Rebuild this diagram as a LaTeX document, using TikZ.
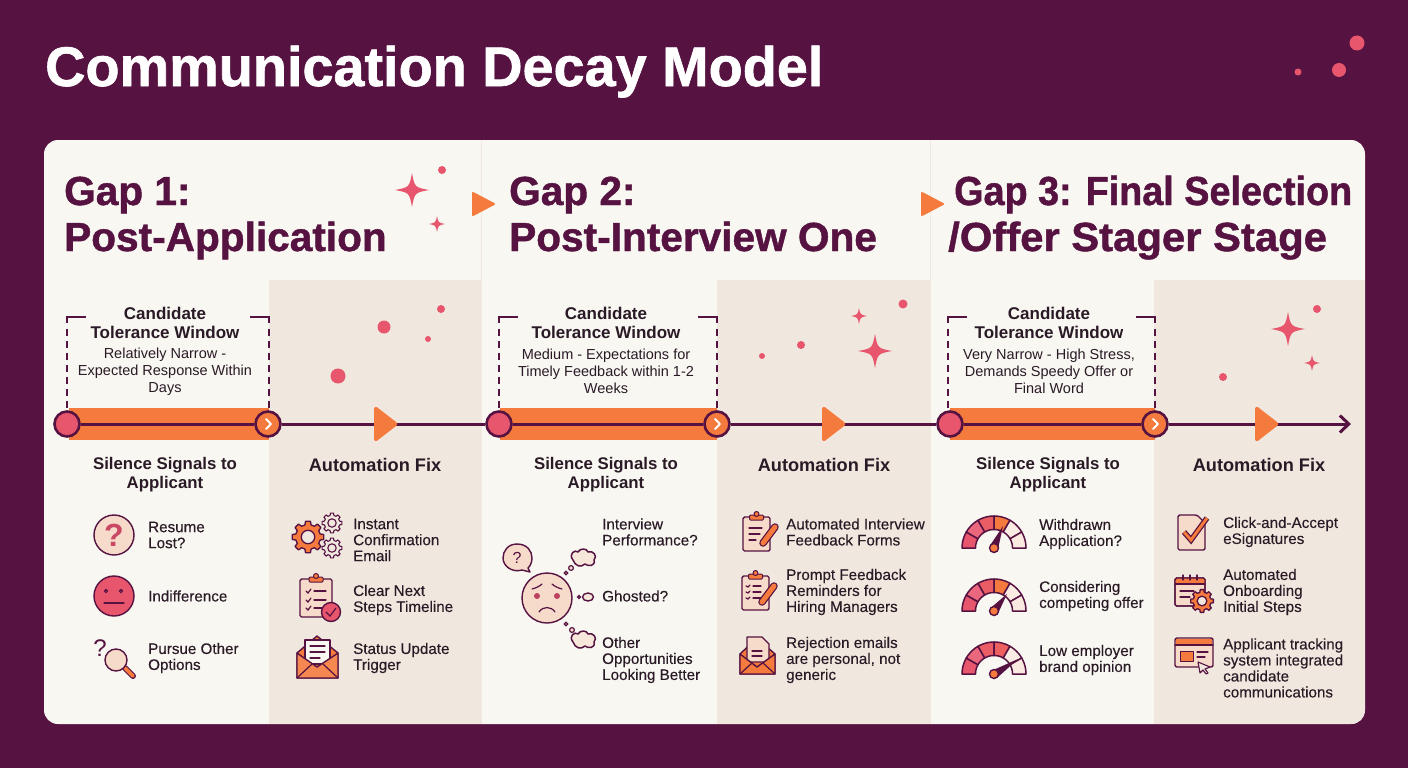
\documentclass[tikz,border=0pt]{standalone}
\usepackage{fontspec}
\setmainfont{Liberation Sans}
\newfontfamily\medf[FakeBold=0.25]{Liberation Sans}
\newfontfamily\hvyf[UprightFont={* Bold},FakeBold=1.1]{Liberation Sans}
\usetikzlibrary{arrows.meta}
\definecolor{plum}{HTML}{561241}
\definecolor{panel}{HTML}{F8F7F2}
\definecolor{tan}{HTML}{F0E8DF}
\definecolor{org}{HTML}{F47A3E}
\definecolor{pnk}{HTML}{E8566E}
\definecolor{peach}{HTML}{F6DACA}
\definecolor{pale}{HTML}{FAEBE3}
\definecolor{ink}{HTML}{2A1A26}
\tikzset{
 x=1pt,y=-1pt,
 ic/.style={draw=plum,line width=1.4pt,line join=round,line cap=round},
 ln/.style={draw=plum,line width=1.2pt,line cap=round},
 itemtext/.style={anchor=west,align=left,inner sep=0pt,text=ink,font=\medf\fontsize{15.2}{16}\selectfont},
 subhead/.style={anchor=center,align=center,inner sep=0pt,text=ink,font=\bfseries\fontsize{16.8}{19}\selectfont},
 autohead/.style={anchor=center,align=center,inner sep=0pt,text=ink,font=\bfseries\fontsize{18.2}{19}\selectfont},
 tolhead/.style={anchor=center,align=center,inner sep=0pt,text=ink,font=\bfseries\fontsize{17}{19}\selectfont},
 tolsub/.style={anchor=center,align=center,inner sep=0pt,text=ink,font=\fontsize{14.5}{17}\selectfont},
 gaphead/.style={anchor=base west,inner sep=0pt,text=plum,font=\hvyf\fontsize{40.6}{46}\selectfont},
 tl/.style={draw=plum,line width=3pt},
 startdot/.style={circle,draw=plum,line width=2.6pt,fill=pnk,minimum size=25pt,inner sep=0pt},
 enddot/.style={circle,draw=plum,line width=2.6pt,fill=org,minimum size=25pt,inner sep=0pt,text=white},
 bar/.style={fill=org,draw=none},
 bracket/.style={draw=plum,line width=1.5pt},
 brdash/.style={draw=plum,line width=1.5pt,dash pattern=on 7pt off 5pt},
 dotp/.style={fill=pnk,draw=none},
 tri/.style={fill=org,draw=org,line width=2pt,line join=round},
}
\newcommand{\sparkle}[3]{\fill[pnk] (#1,#2-#3) .. controls (#1+.16*#3,#2-.16*#3) .. (#1+#3,#2) .. controls (#1+.16*#3,#2+.16*#3) .. (#1,#2+#3) .. controls (#1-.16*#3,#2+.16*#3) .. (#1-#3,#2) .. controls (#1-.16*#3,#2-.16*#3) .. cycle;}
\newcommand{\pdot}[3]{\fill[dotp] (#1,#2) circle[radius=#3];}
\newcommand{\geari}[6]{% x y R lw fill hole
 \begin{scope}[shift={(#1,#2)}]
 \draw[draw=plum,line width=#4pt,fill=#5,line join=round] (-14:{#3*.78}) \foreach \a in {0,45,...,315}{ -- (\a-14:{#3*.78}) -- (\a-9:#3) -- (\a+9:#3) -- (\a+14:{#3*.78}) } -- cycle;
 \draw[draw=plum,line width=#4pt,fill=#6] (0,0) circle[radius={#3*.42}];
 \end{scope}}
\newcommand{\gauge}[7]{% x y tipx tipy + seg colours (4th,5th,6th)
 \begin{scope}[shift={(#1,#2)}]
 \foreach \s/\c in {0/pnk,1/pnk!90!white,2/pnk!80!org,3/#5,4/#6,5/#7}{
  \filldraw[draw=plum,line width=1.5pt,line join=round,fill=\c] plot[domain={-180+30*\s}:{-150+30*\s},samples=7] ({32*cos(\x)},{32*sin(\x)}) -- plot[domain={-150+30*\s}:{-180+30*\s},samples=7] ({18.5*cos(\x)},{18.5*sin(\x)}) -- cycle;}
 \fill[plum] (#3,#4) -- (-4,-2.5) -- (3.5,3.5) -- cycle;
 \filldraw[draw=plum,line width=1.4pt,fill=org] (0,0) circle[radius=4.5];
 \end{scope}}
\newcommand{\clipb}[5]{% x1 y1 x2 y2 fill
 \filldraw[ic,fill=#5,rounded corners=1.5pt] (#1,#2) rectangle (#3,#4);
 \filldraw[ic,fill=org,rounded corners=1pt,line width=1pt] ({(#1+#3)/2-7},#2-2) rectangle ({(#1+#3)/2+7},#2+3);
 \filldraw[ic,fill=org,line width=1pt] ({(#1+#3)/2},#2-3) circle[radius=2.5];}
\newcommand{\pencil}[4]{% tip x,y  end x,y
 \draw[draw=plum,line width=7.5pt,line cap=round] (#1,#2) -- (#3,#4);
 \draw[draw=org,line width=5pt,line cap=round] (#1,#2) -- (#3,#4);}
\newcommand{\cloudi}[3]{% x y s
 \begin{scope}[shift={(#1,#2)},scale=#3]
 \filldraw[ic,line width=1.5pt,fill=peach!60!panel] (-10,2) .. controls (-15,-4) and (-8,-9) .. (-5,-6) .. controls (-3,-10) and (4,-10) .. (5,-6) .. controls (10,-8) and (15,-2) .. (11,2) .. controls (13,8) and (5,9) .. (2,6) .. controls (-2,10) and (-8,8) .. (-10,2) -- cycle;
 \end{scope}}
\begin{document}
\begin{tikzpicture}
\useasboundingbox (0,0) rectangle (1408,768);
\fill[plum] (0,0) rectangle (1408,768);
\node[anchor=base west,inner sep=0pt,text=white,font=\hvyf\fontsize{55.8}{60}\selectfont] (title) at (45,86) {Communication Decay Model};
\pdot{1357}{43}{7.5}\pdot{1339}{70}{7}\pdot{1298}{72}{3.5}
% panel
\fill[panel,rounded corners=14pt] (44,140) rectangle (1365,724);
\fill[tan] (269,280) rectangle (481,724);
\fill[tan] (717,280) rectangle (930,724);
\begin{scope}
\clip[rounded corners=14pt] (44,140) rectangle (1365,724);
\fill[tan] (1154,280) rectangle (1365,724);
\end{scope}
\draw[draw=tan,line width=1pt] (481,140) -- (481,724);
\draw[draw=tan,line width=1pt] (930,140) -- (930,724);
% headings
\node[gaphead] (g1a) at (64,205) {Gap 1:};
\node[gaphead] (g1b) at (64,251) {Post-Application};
\node[gaphead] (g2a) at (509,205) {Gap 2:};
\node[gaphead] (g2b) at (509,251) {Post-Interview One};
\node[gaphead] (g3a) at (954,205) {\scalebox{.93}[1]{Gap 3: Final Selection}};
\node[gaphead] (g3b) at (948,251) {\scalebox{1.03}[1]{/Offer Stager Stage}};
\filldraw[tri] (473,193) -- (494,204) -- (473,215) -- cycle;
\filldraw[tri] (922,193) -- (943,204) -- (922,215) -- cycle;
% sparkles
\sparkle{412}{190}{17}\sparkle{437}{224}{8}\pdot{442}{170}{4}
\pdot{441}{309}{4}\pdot{384}{327}{6.5}\pdot{428}{339}{3}\pdot{338}{376}{7.5}
\sparkle{859}{316}{8}\sparkle{875}{351}{17}\pdot{903}{304}{4.5}\pdot{801}{345}{4}\pdot{762}{356}{3}
\sparkle{1288}{329}{17}\sparkle{1312}{363}{8}\pdot{1317}{309}{4}\pdot{1223}{377}{4}
% brackets
\foreach \l/\r in {67/269,499/717,948/1155}{
 \draw[bracket] (\l+19,317) -- (\l,317) -- (\l,323);
 \draw[bracket] (\r-19,317) -- (\r,317) -- (\r,323);
 \draw[brdash] (\l,329) -- (\l,408);
 \draw[brdash] (\r,329) -- (\r,408);
}
% tolerance text
\node[tolhead] (t1) at (165,323) {Candidate\\Tolerance Window};
\node[tolsub] (s1) at (165,372) {Relatively Narrow -\\Expected Response Within\\Days};
\node[tolhead] (t2) at (606,323) {Candidate\\Tolerance Window};
\node[tolsub] (s2) at (606,371) {Medium - Expectations for\\Timely Feedback within 1-2\\Weeks};
\node[tolhead] (t3) at (1049,323) {Candidate\\Tolerance Window};
\node[tolsub] (s3) at (1049,371) {Very Narrow - High Stress,\\Demands Speedy Offer or\\Final Word};
% timeline
\fill[bar] (69,408) rectangle (269,440);
\fill[bar] (500,408) rectangle (717,440);
\fill[bar] (950,408) rectangle (1155,440);
\node[startdot] (a1) at (67,424) {};
\node[enddot] (b1) at (268,424) {};
\node[startdot] (a2) at (499,424) {};
\node[enddot] (b2) at (717,424) {};
\node[startdot] (a3) at (950,424) {};
\node[enddot] (b3) at (1155,424) {};
\coordinate (tlend) at (1351,424);
\draw[tl] (a1) -- (b1);
\draw[tl] (b1) -- (a2);
\draw[tl] (a2) -- (b2);
\draw[tl] (b2) -- (a3);
\draw[tl] (a3) -- (b3);
\draw[tl,-{Straight Barb[length=9pt,width=17pt]}] (b3) -- (tlend);
\foreach \c in {268,717,1155}{
 \draw[draw=white,line width=1.8pt,line cap=round,line join=round] (\c-2,419) -- (\c+3,424) -- (\c-2,429);}
\foreach \c in {375,823,1256}{
 \filldraw[tri,rounded corners=2pt] (\c,407) -- (\c+22,424) -- (\c,441) -- cycle;}
% subheads
\node[subhead] (si1) at (165,474.5) {Silence Signals to\\Applicant};
\node[autohead] (au1) at (375,465) {Automation Fix};
\node[subhead] (si2) at (606,474.5) {Silence Signals to\\Applicant};
\node[autohead] (au2) at (824,465) {Automation Fix};
\node[subhead] (si3) at (1048,474.5) {Silence Signals to\\Applicant};
\node[autohead] (au3) at (1259,465) {Automation Fix};
% items panel 1
\node[itemtext] (i11) at (148,535) {Resume\\Lost?};
\node[itemtext] (i12) at (148,596) {Indifference};
\node[itemtext] (i13) at (148,658) {Pursue Other\\Options};
\node[itemtext] (f11) at (353,540) {Instant\\Confirmation\\Email};
\node[itemtext] (f12) at (353,600) {Clear Next\\Steps Timeline};
\node[itemtext] (f13) at (353,658) {Status Update\\Trigger};
% items panel 2
\node[itemtext] (i21) at (602,532) {Interview\\Performance?};
\node[itemtext] (i22) at (602,596) {Ghosted?};
\node[itemtext] (i23) at (602,660) {Other\\Opportunities\\Looking Better};
\node[itemtext] (f21) at (786,532) {Automated Interview\\Feedback Forms};
\node[itemtext] (f22) at (786,592) {Prompt Feedback\\Reminders for\\Hiring Managers};
\node[itemtext] (f23) at (786,660) {Rejection emails\\are personal, not\\generic};
% items panel 3
\node[itemtext] (i31) at (1039,534) {Withdrawn\\Application?};
\node[itemtext] (i32) at (1039,596) {Considering\\competing offer};
\node[itemtext] (i33) at (1039,660) {Low employer\\brand opinion};
\node[itemtext] (f31) at (1223,532) {Click-and-Accept\\eSignatures};
\node[itemtext] (f32) at (1223,592) {Automated\\Onboarding\\Initial Steps};
\node[itemtext] (f33) at (1223,668) {Applicant tracking\\system integrated\\candidate\\communications};
% ---- icons P1
\filldraw[ic,fill=peach] (114,535) circle[radius=20];
\node[inner sep=0pt,text=pnk!80!plum,font=\bfseries\fontsize{32}{32}\selectfont] (qm1) at (114,535) {?};
\filldraw[ic,fill=pnk] (114,596) circle[radius=20];
\draw[ln] (106,591) circle[radius=1.6];
\draw[ln] (121,591) circle[radius=1.6];
\draw[ln] (104,603) -- (124,603);
\node[inner sep=0pt,text=plum,font=\fontsize{24}{24}\selectfont] (qm2) at (100,648) {?};
\draw[draw=plum,line width=6pt,line cap=round] (125,668) -- (133,676);
\draw[draw=org,line width=3.6pt,line cap=round] (125,668) -- (133,676);
\filldraw[ic,fill=peach] (116,660) circle[radius=11];
\geari{308}{537}{16}{1.3}{org}{tan}
\geari{332}{523}{10}{1.1}{tan}{tan}
\geari{332}{548}{10}{1.1}{tan}{tan}
\clipb{300}{579}{332}{617}{peach}
\foreach \y in {591,600,608}{
 \draw[ln] (306,\y) -- (308,\y+2) -- (311,\y-2);
 \draw[ln] (314,\y) -- (326,\y);}
\filldraw[ic,fill=pnk] (331,612) circle[radius=9.5];
\draw[ln] (326,612) -- (330,616) -- (336,608);
\filldraw[ic,fill=org] (297,653) -- (317,636) -- (338,653) -- (338,678) -- (297,678) -- cycle;
\filldraw[ic,fill=panel] (305,640) rectangle (330,664);
\draw[ln] (310,646) -- (325,646) (310,652) -- (325,652) (310,658) -- (320,658);
\filldraw[ic,fill=org!90!white] (297,678) -- (297,653) -- (317,667) -- (338,653) -- (338,678) -- cycle;
\draw[ln] (297,678) -- (312,664) (338,678) -- (323,664);
% ---- icons P2
\filldraw[ic,fill=peach] (547,598) circle[radius=25];
\fill[pnk!70!plum] (537,596) circle[radius=3];
\fill[pnk!70!plum] (557,596) circle[radius=3];
\draw[ln] (532,589) .. controls (536,588) and (540,586) .. (542,584);
\draw[ln] (562,589) .. controls (558,588) and (554,586) .. (552,584);
\draw[ln] (539,612) .. controls (543,606) and (551,606) .. (555,612);
\filldraw[ic,fill=peach] (517,544) .. controls (527,544) and (532,551) .. (532,558) .. controls (532,563) and (530,566) .. (528,568) -- (530,572) -- (522,570) .. controls (512,573) and (503,566) .. (503,558) .. controls (503,551) and (508,544) .. (517,544) -- cycle;
\node[inner sep=0pt,text=plum,font=\fontsize{16}{16}\selectfont] (qm3) at (517,558) {?};
\cloudi{583}{558}{1}
\filldraw[ic,fill=peach!60!panel] (588,597) ellipse[x radius=5.5,y radius=4];
\cloudi{583}{640}{1}
\draw[ln,fill=peach] (566,573) circle[radius=1.8] (571,568) circle[radius=2.4];
\draw[ln,fill=peach] (579,597) circle[radius=1.5];
\draw[ln,fill=peach] (566,624) circle[radius=1.8] (572,630) circle[radius=2.4];
\clipb{743}{517}{770}{551}{peach}
\draw[ln] (749,528) -- (762,528) (749,534) -- (760,534) (749,540) -- (756,540);
\pencil{763}{543}{775}{527}
\clipb{742}{576}{769}{610}{peach}
\foreach \y in {586,592,598}{\draw[ln] (746,\y) -- (748,\y+1) -- (750,\y-1); \draw[ln] (753,\y) -- (761,\y);}
\pencil{762}{602}{774}{586}
\filldraw[ic,fill=org] (740,654) -- (757,638) -- (775,654) -- (775,674) -- (740,674) -- cycle;
\filldraw[ic,fill=peach] (747,637) -- (762,637) -- (769,644) -- (769,662) -- (747,662) -- cycle;
\draw[ln] (752,651) -- (762,651) (752,656) -- (762,656);
\filldraw[ic,fill=org] (740,674) -- (740,654) -- (757,667) -- (775,654) -- (775,674) -- cycle;
\draw[ln] (740,674) -- (752,663) (775,674) -- (763,663);
% ---- icons P3
\gauge{994}{548}{9}{-22}{org}{pale}{pale!90!peach}
\gauge{994}{611}{13}{-17}{org}{pale}{pale!90!peach}
\gauge{994}{674}{24}{-15}{pnk!70!org}{pale}{pale!90!peach}
\filldraw[ic,fill=peach,rounded corners=1.5pt] (1178,515) -- (1197,515) -- (1205,523) -- (1205,550) -- (1178,550) -- cycle;
\draw[draw=plum,line width=5.5pt,line join=miter] (1184,532) -- (1191,540) -- (1207,518);
\draw[draw=org,line width=3pt,line join=miter] (1184,532) -- (1191,540) -- (1207,518);
\filldraw[ic,fill=peach,rounded corners=1.5pt] (1175,578) rectangle (1205,606);
\fill[org,rounded corners=1pt] (1175,578) rectangle (1205,584);
\draw[ic,fill=none,rounded corners=1.5pt] (1175,578) rectangle (1205,606);
\draw[ln] (1175,584) -- (1205,584) (1183,575) -- (1183,580) (1197,575) -- (1197,580) (1190,575) -- (1190,580);
\draw[ln] (1180,591) -- (1194,591) (1180,597) -- (1190,597);
\geari{1202}{601}{11.5}{1.3}{org}{tan}
\filldraw[ic,fill=peach,rounded corners=2pt] (1175,638) rectangle (1213,667);
\fill[org] (1176,639) rectangle (1212,645);
\draw[ln] (1175,645) -- (1213,645);
\filldraw[ic,fill=org,line width=1pt] (1180,651) rectangle (1193,661);
\draw[ln] (1197,652) -- (1208,652) (1197,657) -- (1205,657);
\filldraw[ic,fill=tan,line width=1.1pt] (1198,662) -- (1210,667) -- (1205,669) -- (1208,673) -- (1206,674) -- (1203,670) -- (1200,673) -- cycle;
\end{tikzpicture}
\end{document}
